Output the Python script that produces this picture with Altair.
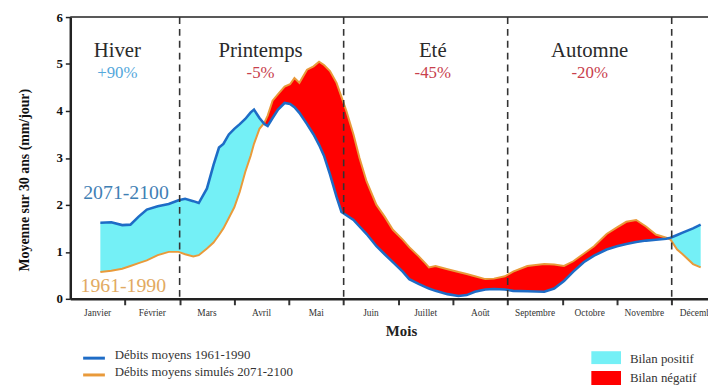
import altair as alt
import pandas as pd

# ---- data (x in months from 1 Jan, 0..12) ----
mois_x = [0.55, 0.75, 0.95, 1.10, 1.25, 1.40, 1.60, 1.80, 1.98, 2.10, 2.25, 2.35,
          2.50, 2.62, 2.72, 2.80, 2.90, 3.00, 3.10, 3.20, 3.30, 3.36, 3.46, 3.55,
          3.61, 3.70, 3.80, 3.92, 4.02, 4.10, 4.19, 4.33, 4.45, 4.55, 4.64, 4.75,
          4.87, 4.96, 5.05, 5.18, 5.29, 5.42, 5.60, 5.75, 5.90, 6.08, 6.20, 6.37,
          6.50, 6.56, 6.68, 6.90, 7.10, 7.25, 7.40, 7.59, 7.75, 7.95, 8.10, 8.36,
          8.67, 8.85, 9.03, 9.20, 9.39, 9.58, 9.81, 10.00, 10.17, 10.35, 10.53,
          10.71, 10.90, 10.98, 11.10, 11.20, 11.39, 11.53]

# blue curve
debits_bleu = [1.62, 1.63, 1.57, 1.58, 1.75, 1.90, 1.97, 2.02, 2.10, 2.13, 2.08, 2.04,
               2.35, 2.85, 3.22, 3.30, 3.50, 3.62, 3.72, 3.83, 3.97, 4.03, 3.85, 3.72,
               3.68, 3.85, 4.03, 4.17, 4.15, 4.08, 3.96, 3.72, 3.50, 3.28, 3.05, 2.65,
               2.17, 1.85, 1.78, 1.68, 1.54, 1.38, 1.12, 0.95, 0.78, 0.58, 0.42, 0.32,
               0.25, 0.22, 0.17, 0.10, 0.06, 0.08, 0.15, 0.20, 0.21, 0.20, 0.17, 0.16,
               0.15, 0.22, 0.38, 0.58, 0.78, 0.92, 1.05, 1.12, 1.17, 1.21, 1.24,
               1.26, 1.28, 1.30, 1.36, 1.41, 1.50, 1.58]

# orange curve
debits_orange = [0.57, 0.60, 0.64, 0.70, 0.76, 0.82, 0.93, 1.00, 1.00, 0.95, 0.90, 0.93,
                 1.07, 1.20, 1.36, 1.50, 1.72, 1.95, 2.28, 2.70, 3.05, 3.30, 3.62, 3.75,
                 3.90, 4.22, 4.36, 4.52, 4.57, 4.70, 4.60, 4.88, 4.95, 5.05, 4.98, 4.85,
                 4.60, 4.30, 4.00, 3.50, 3.00, 2.50, 2.00, 1.75, 1.47, 1.26, 1.10, 0.91,
                 0.75, 0.67, 0.70, 0.63, 0.57, 0.53, 0.48, 0.42, 0.43, 0.48, 0.58, 0.70,
                 0.74, 0.73, 0.70, 0.80, 0.96, 1.12, 1.38, 1.52, 1.64, 1.68, 1.54,
                 1.37, 1.30, 1.26, 1.05, 0.95, 0.74, 0.67]

mois_noms = ["Janvier", "Février", "Mars", "Avril", "Mai", "Juin", "Juillet",
             "Août", "Septembre", "Octobre", "Novembre", "Décembre"]
saisons = ["Hiver", "Printemps", "Eté", "Automne"]
saisons_pct = ["+90%", "-5%", "-45%", "-20%"]
saisons_centre = [0.86, 3.48, 6.63, 9.50]
limites_saisons = [2, 5, 8, 11]
y_ticks = [0, 1, 2, 3, 4, 5, 6]

SERIF = "Liberation Serif"
W, H = 645, 285
XMAX = 11.664

xs = alt.Scale(domain=[0, XMAX], nice=False, zero=False)
ys = alt.Scale(domain=[0, 6], nice=False)

df = pd.DataFrame({"mois": mois_x, "bleu": debits_bleu, "orange": debits_orange})
base = alt.Chart(df).transform_calculate(hi="max(datum.bleu, datum.orange)")

x_axis = alt.Axis(values=list(range(1, 12)), labels=False, title=None, grid=False,
                  tickSize=6, tickWidth=2, tickColor="#333", domainColor="#222",
                  domainWidth=2.5)
y_axis = alt.Axis(values=y_ticks, title=None, grid=False, labelFont=SERIF,
                  labelFontWeight="bold", labelFontSize=13, labelColor="#111",
                  tickSize=5, tickWidth=1.5, tickColor="#222", labelPadding=3,
                  domainColor="#222", domainWidth=2.5)

pos = base.mark_area(color="#74F0F6").encode(
    x=alt.X("mois:Q", scale=xs, axis=x_axis),
    y=alt.Y("orange:Q", scale=ys, axis=y_axis),
    y2="hi:Q")
neg = base.mark_area(color="#FF0000").encode(
    x=alt.X("mois:Q", scale=xs), y=alt.Y("bleu:Q", scale=ys), y2="hi:Q")
l_orange = alt.Chart(df).mark_line(color="#E99A3A", strokeWidth=2).encode(
    x=alt.X("mois:Q", scale=xs), y=alt.Y("orange:Q", scale=ys))
l_bleu = alt.Chart(df).mark_line(color="#1E6CC6", strokeWidth=2.6).encode(
    x=alt.X("mois:Q", scale=xs), y=alt.Y("bleu:Q", scale=ys))

top = alt.Chart(pd.DataFrame({"y": [6]})).mark_rule(color="#222", strokeWidth=1.5).encode(
    y=alt.Y("y:Q", scale=ys))
dash = alt.Chart(pd.DataFrame({"m": limites_saisons})).mark_rule(
    color="#333", strokeWidth=1.6, strokeDash=[7, 5]).encode(x=alt.X("m:Q", scale=xs))

sdf = pd.DataFrame({"saison": saisons, "pct": saisons_pct, "c": saisons_centre})
s_title = alt.Chart(sdf).mark_text(font=SERIF, fontSize=21, color="#2a2a2a").encode(
    x=alt.X("c:Q", scale=xs), y=alt.value(34), text="saison:N")
s_pct = alt.Chart(sdf).mark_text(font=SERIF, fontSize=17).encode(
    x=alt.X("c:Q", scale=xs), y=alt.value(57), text="pct:N",
    color=alt.condition(alt.datum.pct == "+90%", alt.value("#55A8DC"), alt.value("#C8404C")))

mdf = pd.DataFrame({"nom": mois_noms, "i": list(range(12))})
m_lab = alt.Chart(mdf).transform_calculate(c="datum.i + 0.5").mark_text(
    font=SERIF, fontSize=9.5, color="#333").encode(
    x=alt.X("c:Q", scale=xs), y=alt.value(H + 14), text="nom:N")

one = pd.DataFrame({"k": [0]})
lab2071 = alt.Chart(one).mark_text(font=SERIF, fontSize=20, color="#3F80B4", text="2071-2100").encode(
    x=alt.X(datum=1.02, scale=xs), y=alt.Y(datum=2.25, scale=ys))
lab1961 = alt.Chart(one).mark_text(font=SERIF, fontSize=20, color="#E2AA62", text="1961-1990").encode(
    x=alt.X(datum=0.97, scale=xs), y=alt.Y(datum=0.27, scale=ys))

mois_title = alt.Chart(one).mark_text(font=SERIF, fontSize=15, fontWeight="bold", color="#222",
                                      text="Mois").encode(x=alt.value(335), y=alt.value(318))
y_title = alt.Chart(one).mark_text(font=SERIF, fontSize=14, fontWeight="bold", color="#111",
                                   angle=270, text="Moyenne sur 30 ans (mm/jour)").encode(
    x=alt.value(-46), y=alt.value(165))

leg_b = alt.Chart(one).mark_rule(color="#1E6CC6", strokeWidth=3).encode(
    x=alt.value(13), x2=alt.value(35), y=alt.value(345))
leg_o = alt.Chart(one).mark_rule(color="#E99A3A", strokeWidth=3).encode(
    x=alt.value(13), x2=alt.value(35), y=alt.value(362))
leg_bt = alt.Chart(one).mark_text(font=SERIF, fontSize=13, color="#333", align="left",
                                  text="Débits moyens 1961-1990").encode(x=alt.value(45), y=alt.value(342))
leg_ot = alt.Chart(one).mark_text(font=SERIF, fontSize=13, color="#333", align="left",
                                  text="Débits moyens simulés 2071-2100").encode(x=alt.value(45), y=alt.value(359))
leg_c = alt.Chart(one).mark_rect(color="#74F0F6").encode(
    x=alt.value(527), x2=alt.value(557), y=alt.value(338), y2=alt.value(351))
leg_r = alt.Chart(one).mark_rect(color="#FF0000").encode(
    x=alt.value(527), x2=alt.value(557), y=alt.value(358), y2=alt.value(376))
leg_ct = alt.Chart(one).mark_text(font=SERIF, fontSize=13, color="#333", align="left",
                                  text="Bilan positif").encode(x=alt.value(566), y=alt.value(346))
leg_rt = alt.Chart(one).mark_text(font=SERIF, fontSize=13, color="#333", align="left",
                                  text="Bilan négatif").encode(x=alt.value(566), y=alt.value(365))

chart = alt.layer(
    pos, neg, l_orange, l_bleu, top, dash, s_title, s_pct, m_lab, lab2071, lab1961,
    mois_title, y_title, leg_b, leg_o, leg_bt, leg_ot, leg_c, leg_r, leg_ct, leg_rt
).properties(
    width=W, height=H,
    autosize=alt.AutoSizeParams(type="none"),
    padding={"left": 63, "top": 7, "right": 0, "bottom": 85},
    background="white",
).configure_view(strokeWidth=0)

chart.save("out.html", embed_options={"renderer": "svg", "actions": False})
